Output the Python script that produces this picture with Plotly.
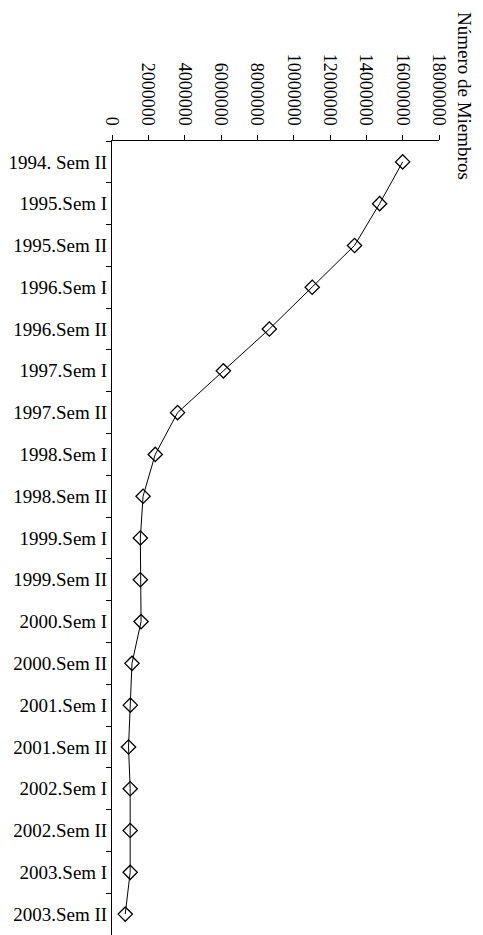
import plotly.graph_objects as go

categories = ["1994. Sem II", "1995.Sem I", "1995.Sem II", "1996.Sem I", "1996.Sem II",
              "1997.Sem I", "1997.Sem II", "1998.Sem I", "1998.Sem II", "1999.Sem I",
              "1999.Sem II", "2000.Sem I", "2000.Sem II", "2001.Sem I", "2001.Sem II",
              "2002.Sem I", "2002.Sem II", "2003.Sem I", "2003.Sem II"]
members = [16000000, 14730000, 13350000, 11020000, 8660000,
           6130000, 3610000, 2380000, 1710000, 1560000,
           1560000, 1600000, 1100000, 1010000, 910000,
           1000000, 1000000, 1000000, 730000]
axis_title = "Número de Miembros"

# page body has an 8px default margin, so the figure is laid out 8px smaller
OFF = 8
W, H = 483 - OFF, 935 - OFF
ml, mr, mt, mb = 104, 44, 133, 0

fig = go.Figure()
fig.add_trace(go.Scatter(
    x=members, y=categories, mode="lines+markers",
    line=dict(color="black", width=1),
    marker=dict(symbol="diamond-open", size=11, color="black", line=dict(width=1.3)),
    showlegend=False, cliponaxis=False,
))

font_family = "Liberation Serif, Times New Roman, serif"
fig.update_layout(
    width=W, height=H,
    margin=dict(l=ml, r=mr, t=mt, b=mb, pad=0, autoexpand=False),
    paper_bgcolor="white", plot_bgcolor="white",
    font=dict(family=font_family, color="black"),
    xaxis=dict(
        side="top", range=[0, 18000000], dtick=2000000, tick0=0,
        tickformat="d", tickangle=90, automargin=False,
        showgrid=False, zeroline=False,
        showline=True, linecolor="black", linewidth=1,
        ticks="outside", ticklen=5, tickcolor="black",
        ticklabelstandoff=3,
        tickfont=dict(size=18, family=font_family),
    ),
    yaxis=dict(
        type="category", range=[len(categories) - 0.5, -0.5], automargin=False,
        showgrid=False, zeroline=False,
        showline=True, linecolor="black", linewidth=1,
        ticks="outside", ticklen=5, tickcolor="black", tickson="boundaries",
        tickfont=dict(size=19, family=font_family),
    ),
)

plot_w = W - ml - mr
plot_h = H - mt - mb
fig.add_annotation(
    text=axis_title, textangle=90, showarrow=False,
    xref="paper", yref="paper",
    x=(456 - ml) / plot_w, y=(H - mb - 88) / plot_h,
    xanchor="center", yanchor="middle",
    font=dict(size=19, family=font_family, color="black"),
)

fig.write_html("out.html")
